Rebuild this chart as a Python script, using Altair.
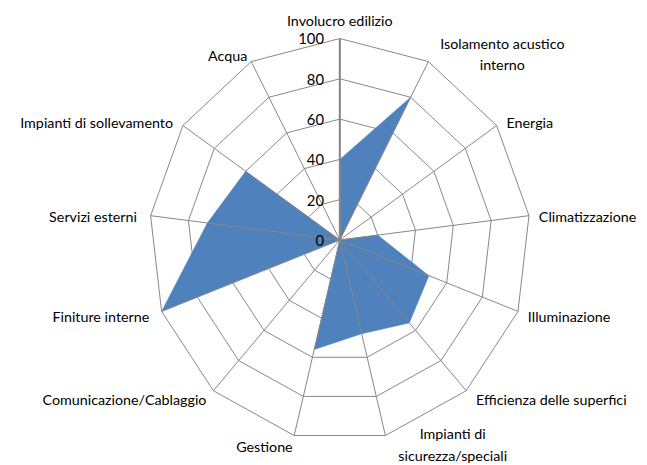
import altair as alt
import pandas as pd

# ---- data ----
categories = [
    "Involucro edilizio",
    "Isolamento acustico\ninterno",
    "Energia",
    "Climatizzazione",
    "Illuminazione",
    "Efficienza delle superfici",
    "Impianti di\nsicurezza/speciali",
    "Gestione",
    "Comunicazione/Cablaggio",
    "Finiture interne",
    "Servizi esterni",
    "Impianti di sollevamento",
    "Acqua",
]
values = [40, 80, 0, 20, 50, 55, 48, 56, 0, 100, 70, 60, 0]
ring_levels = [20, 40, 60, 80, 100]
tick_values = [0, 20, 40, 60, 80, 100]
tick_labels = ["0", "20", "40", "60", "80", "100"]

# ---- style ----
GRID = "#868686"
BLUE = "#4F81BD"
FONT = "Lato"
RX = 193  # px per 100 units horizontally
RY = 204  # px per 100 units vertically
N = len(categories)

base_df = pd.DataFrame({"idx": list(range(N)), "category": categories, "value": values})
ring_df = pd.DataFrame([{"level": L, "idx": i} for L in ring_levels for i in range(N)])
tick_df = pd.DataFrame({"level": tick_values, "label": tick_labels})

xs = alt.Scale(domain=[-100, 100], nice=False, zero=False)
ys = alt.Scale(domain=[-100, 100], nice=False, zero=False)
ANG = f"datum.idx * 2 * PI / {N}"


def X(f):
    return alt.X(f, type="quantitative", scale=xs, axis=None)


def Y(f):
    return alt.Y(f, type="quantitative", scale=ys, axis=None)


rings = (
    alt.Chart(ring_df)
    .transform_calculate(ang=ANG)
    .transform_calculate(px="datum.level * sin(datum.ang)", py="datum.level * cos(datum.ang)")
    .mark_line(interpolate="linear-closed", color=GRID, strokeWidth=1)
    .encode(x=X("px"), y=Y("py"), detail="level:N", order="idx:Q")
)

polygon = (
    alt.Chart(base_df)
    .transform_calculate(ang=ANG)
    .transform_calculate(px="datum.value * sin(datum.ang)", py="datum.value * cos(datum.ang)")
    .mark_line(interpolate="linear-closed", fill=BLUE, stroke=BLUE, strokeWidth=0.5)
    .encode(x=X("px"), y=Y("py"), order="idx:Q")
)

spokes = (
    alt.Chart(base_df)
    .transform_calculate(ang=ANG)
    .transform_calculate(z="0", ex="100 * sin(datum.ang)", ey="100 * cos(datum.ang)")
    .mark_rule(color=GRID, strokeWidth=1)
    .encode(x=X("z"), y=Y("z"), x2="ex:Q", y2="ey:Q")
)

value_axis = (
    alt.Chart(base_df)
    .transform_filter("datum.idx == 0")
    .transform_calculate(z="0", top="100")
    .mark_rule(color=GRID, strokeWidth=2)
    .encode(x=X("z"), y=Y("z"), y2="top:Q")
)

ticks = (
    alt.Chart(tick_df)
    .transform_calculate(z="0")
    .mark_text(align="right", baseline="middle", dx=-16, dy=1, font=FONT, fontSize=15, color="#000000")
    .encode(x=X("z"), y=Y("level"), text="label:N")
)

label_base = (
    alt.Chart(base_df)
    .transform_calculate(ang=ANG)
    .transform_calculate(s="sin(datum.ang)", c="cos(datum.ang)")
    .transform_calculate(
        multi="indexof(datum.category, '\\n') >= 0",
        maxlen="max(length(split(datum.category, '\\n')[0]), length(split(datum.category, '\\n')[length(split(datum.category, '\\n')) - 1]))",
    )
    .transform_calculate(
        off="datum.s > 0 ? 10 : (4 + 10 * abs(datum.s)) * datum.s",
    )
    .transform_calculate(
        lx=f"100 * datum.s + datum.off * 100 / {RX}",
        ly=f"100 * datum.c - (3.5 - 9 * datum.c) * 100 / {RY}",
        mx=f"100 * datum.s + (14 * datum.s + (datum.s >= 0 ? 1 : -1) * 3.6 * datum.maxlen) * 100 / {RX}",
        my=f"100 * datum.c - (3 - 9 * datum.c - 12) * 100 / {RY}",
        ty=f"100 + 10 * 100 / {RY}",
    )
)

txt = dict(font=FONT, fontSize=14.5, color="#000000", lineBreak="\n", lineHeight=22)

labels_right = (
    label_base.transform_filter("datum.s > 0.1 && !datum.multi")
    .mark_text(align="left", baseline="middle", **txt)
    .encode(x=X("lx"), y=Y("ly"), text="category:N")
)
labels_left = (
    label_base.transform_filter("datum.s < -0.1 && !datum.multi")
    .mark_text(align="right", baseline="middle", **txt)
    .encode(x=X("lx"), y=Y("ly"), text="category:N")
)
labels_top = (
    label_base.transform_filter("abs(datum.s) <= 0.1 && !datum.multi")
    .mark_text(align="center", baseline="bottom", **txt)
    .encode(x=X("lx"), y=Y("ty"), text="category:N")
)
labels_multi = (
    label_base.transform_filter("datum.multi")
    .mark_text(align="center", baseline="middle", **txt)
    .encode(x=X("mx"), y=Y("my"), text="category:N")
)

chart = (
    alt.layer(rings, polygon, spokes, value_axis, ticks, labels_right, labels_left, labels_top, labels_multi)
    .properties(
        width=2 * RX,
        height=2 * RY,
        autosize=alt.AutoSizeParams(type="none"),
        padding={"left": 143, "top": 28, "right": 110, "bottom": 21},
        background="white",
    )
    .configure_view(stroke=None)
)

chart.save("out.html", embed_options={"renderer": "svg", "actions": False})
